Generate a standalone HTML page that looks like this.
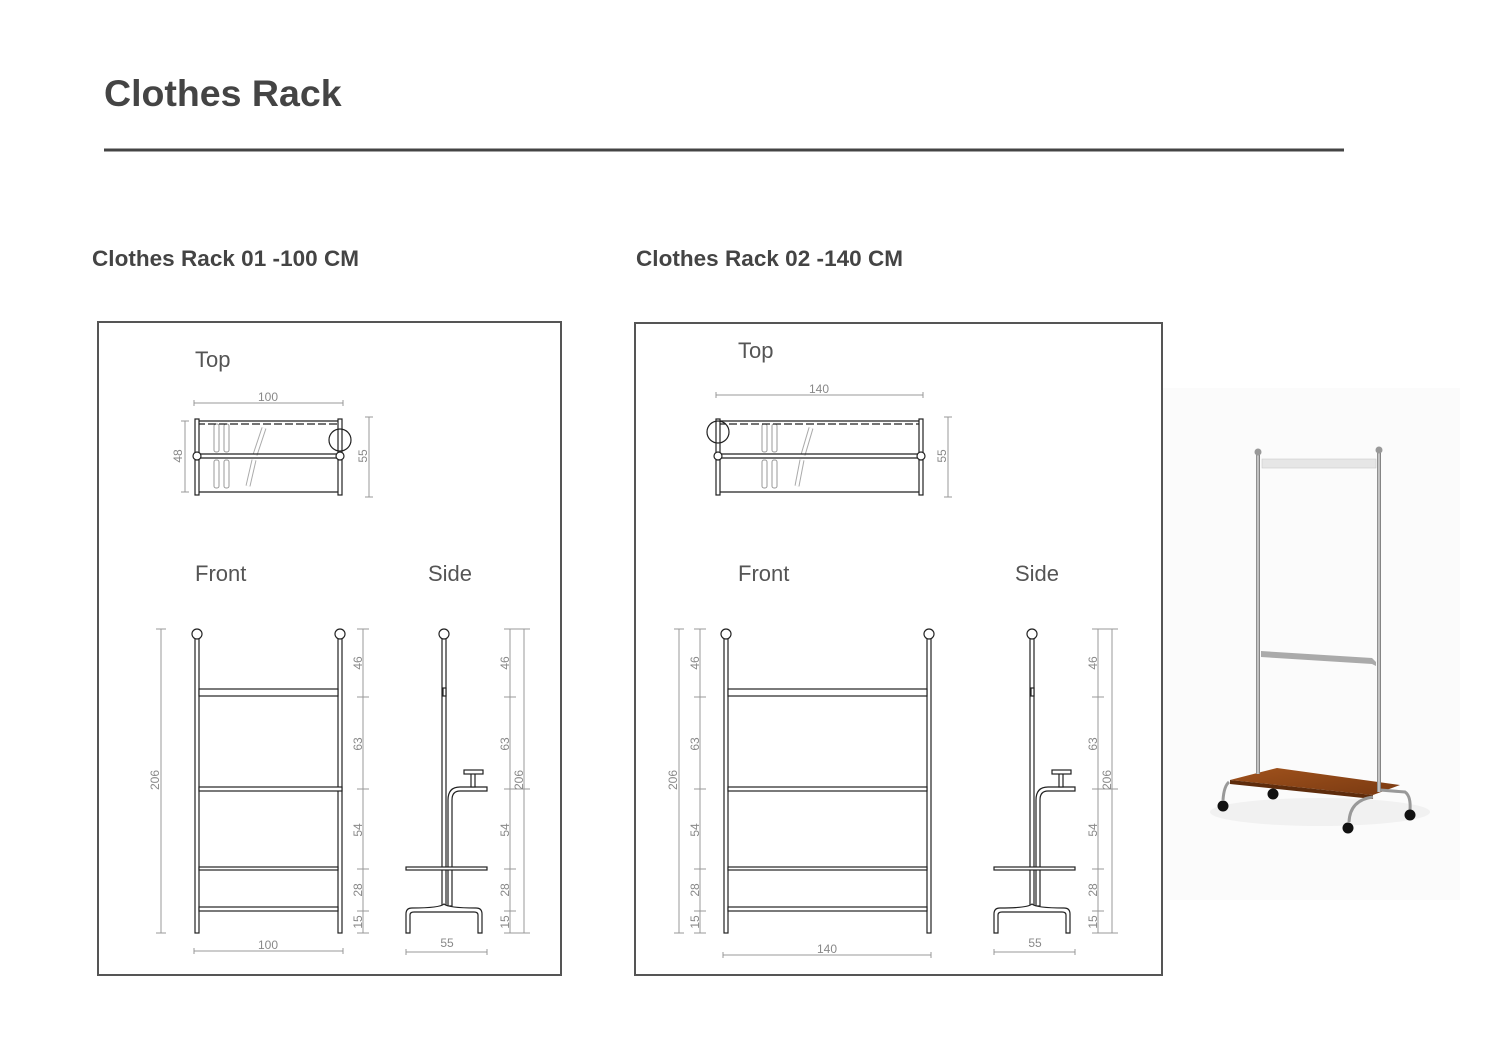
<!DOCTYPE html>
<html><head><meta charset="utf-8"><style>
html,body{margin:0;padding:0;background:#fff;}
svg{display:block;}
.t{font-family:"Liberation Sans",sans-serif;}
.d{font-family:"Liberation Sans",sans-serif;font-size:12px;fill:#888;}
.lab{font-family:"Liberation Sans",sans-serif;font-size:22px;fill:#555;}
</style></head><body>
<svg width="1500" height="1061" viewBox="0 0 1500 1061" xmlns="http://www.w3.org/2000/svg">
<defs>
<linearGradient id="chrome" x1="0" x2="1"><stop offset="0" stop-color="#777"/><stop offset=".5" stop-color="#ddd"/><stop offset="1" stop-color="#666"/></linearGradient>
<linearGradient id="wood" x1="0" x2="1" y1="0" y2="1"><stop offset="0" stop-color="#a0521c"/><stop offset="1" stop-color="#7a3a12"/></linearGradient>
</defs>
<text x="104" y="106" class="t" font-size="37.5" font-weight="bold" fill="#444">Clothes Rack</text>
<line x1="104" y1="150" x2="1344" y2="150" stroke="#444" stroke-width="3"/>
<text x="92" y="266" class="t" font-size="22.5" font-weight="bold" fill="#444" textLength="267">Clothes Rack 01 -100 CM</text>
<text x="636" y="266" class="t" font-size="22.5" font-weight="bold" fill="#444" textLength="267">Clothes Rack 02 -140 CM</text>

<rect x="98" y="322" width="463" height="653" fill="none" stroke="#555" stroke-width="2"/>
<rect x="635" y="323" width="527" height="652" fill="none" stroke="#555" stroke-width="2"/>

<!-- ===== Panel 1 Top ===== -->
<text x="195" y="367" class="lab">Top</text>
<g stroke="#999" stroke-width="1" fill="none">
<line x1="194" y1="403" x2="343" y2="403"/><line x1="194" y1="400" x2="194" y2="406"/><line x1="343" y1="400" x2="343" y2="406"/>
<line x1="185" y1="421" x2="185" y2="492"/><line x1="181" y1="421" x2="189" y2="421"/><line x1="181" y1="492" x2="189" y2="492"/>
<line x1="369" y1="417" x2="369" y2="497"/><line x1="365" y1="417" x2="373" y2="417"/><line x1="365" y1="497" x2="373" y2="497"/>
<rect x="214" y="424" width="5" height="28" rx="2"/><rect x="224" y="424" width="5" height="28" rx="2"/>
<rect x="214" y="460" width="5" height="28" rx="2"/><rect x="224" y="460" width="5" height="28" rx="2"/>
<line x1="264" y1="428" x2="255" y2="455" stroke-width="5" stroke="#aaa"/><line x1="264" y1="428" x2="255" y2="455" stroke-width="3" stroke="#fff"/>
<line x1="254" y1="460" x2="248" y2="486" stroke-width="5" stroke="#aaa"/><line x1="254" y1="460" x2="248" y2="486" stroke-width="3" stroke="#fff"/>
</g>
<text x="268" y="401" class="d" text-anchor="middle">100</text>
<text transform="translate(182,456) rotate(-90)" class="d" text-anchor="middle">48</text>
<text transform="translate(367,456) rotate(-90)" class="d" text-anchor="middle">55</text>
<g stroke="#222" stroke-width="1.2" fill="#fff">
<line x1="197" y1="421" x2="340" y2="421"/><line x1="197" y1="424" x2="340" y2="424" stroke-dasharray="8 3"/>
<line x1="197" y1="454" x2="340" y2="454"/><line x1="197" y1="458" x2="340" y2="458"/>
<line x1="197" y1="492" x2="340" y2="492"/>
<rect x="195" y="419" width="4" height="76"/><rect x="338" y="419" width="4" height="76"/>
<circle cx="197" cy="456" r="4"/><circle cx="340" cy="456" r="4"/>
<circle cx="340" cy="440" r="11" fill="none"/>
</g>

<!-- ===== Panel 1 Front ===== -->
<text x="195" y="581" class="lab">Front</text>
<g stroke="#222" stroke-width="1.2" fill="#fff">
<rect x="195" y="636" width="4" height="297"/><rect x="338" y="636" width="4" height="297"/>
<circle cx="197" cy="634" r="5"/><circle cx="340" cy="634" r="5"/>
<rect x="199" y="689" width="139" height="7"/><rect x="199" y="787" width="143" height="4"/>
<rect x="199" y="867" width="139" height="3"/><rect x="199" y="907" width="139" height="4"/>
</g>
<g stroke="#999" stroke-width="1">
<line x1="161" y1="629" x2="161" y2="933"/><line x1="156" y1="629" x2="166" y2="629"/><line x1="156" y1="933" x2="166" y2="933"/>
<line x1="363" y1="629" x2="363" y2="933"/>
<line x1="357" y1="629" x2="369" y2="629"/><line x1="357" y1="697" x2="369" y2="697"/><line x1="357" y1="789" x2="369" y2="789"/><line x1="357" y1="869" x2="369" y2="869"/><line x1="357" y1="911" x2="369" y2="911"/><line x1="357" y1="933" x2="369" y2="933"/>
<line x1="194" y1="951" x2="343" y2="951"/><line x1="194" y1="948" x2="194" y2="954"/><line x1="343" y1="948" x2="343" y2="954"/>
</g>
<text transform="translate(159,780) rotate(-90)" class="d" text-anchor="middle">206</text>
<text transform="translate(362,663) rotate(-90)" class="d" text-anchor="middle">46</text>
<text transform="translate(362,744) rotate(-90)" class="d" text-anchor="middle">63</text>
<text transform="translate(362,830) rotate(-90)" class="d" text-anchor="middle">54</text>
<text transform="translate(362,890) rotate(-90)" class="d" text-anchor="middle">28</text>
<text transform="translate(362,922) rotate(-90)" class="d" text-anchor="middle">15</text>
<text x="268" y="949" class="d" text-anchor="middle">100</text>

<!-- ===== Panel 1 Side ===== -->
<text x="428" y="581" class="lab">Side</text>
<g id="side1">
<g stroke="#222" stroke-width="1.2" fill="#fff">
<rect x="442" y="636" width="4" height="270"/>
<circle cx="444" cy="634" r="5"/>
<rect x="443" y="688" width="3" height="8"/>
<path d="M448 906 L448 800 Q448 787 460 787 L487 787 L487 791 L460 791 Q452 791 452 800 L452 906 Z"/>
<rect x="471" y="773" width="4" height="14"/><rect x="464" y="770" width="19" height="4"/>
<rect x="406" y="867" width="81" height="3"/>
<path d="M444 904 Q440 908 412 908 Q406 908 406 914 L406 933 L410 933 L410 915 Q410 912 414 912 L444 912 L474 912 Q478 912 478 915 L478 933 L482 933 L482 914 Q482 908 476 908 Q448 908 444 904 Z"/>
</g>
<g stroke="#999" stroke-width="1">
<line x1="510" y1="629" x2="510" y2="933"/><line x1="524" y1="629" x2="524" y2="933"/>
<line x1="504" y1="629" x2="530" y2="629"/><line x1="504" y1="697" x2="516" y2="697"/><line x1="504" y1="789" x2="530" y2="789"/><line x1="504" y1="869" x2="516" y2="869"/><line x1="504" y1="911" x2="516" y2="911"/><line x1="504" y1="933" x2="530" y2="933"/>
<line x1="406" y1="952" x2="487" y2="952"/><line x1="406" y1="949" x2="406" y2="955"/><line x1="487" y1="949" x2="487" y2="955"/>
</g>
<text transform="translate(509,663) rotate(-90)" class="d" text-anchor="middle">46</text>
<text transform="translate(509,744) rotate(-90)" class="d" text-anchor="middle">63</text>
<text transform="translate(509,830) rotate(-90)" class="d" text-anchor="middle">54</text>
<text transform="translate(509,890) rotate(-90)" class="d" text-anchor="middle">28</text>
<text transform="translate(509,922) rotate(-90)" class="d" text-anchor="middle">15</text>
<text transform="translate(523,780) rotate(-90)" class="d" text-anchor="middle">206</text>
<text x="447" y="947" class="d" text-anchor="middle">55</text>
</g>

<!-- ===== Panel 2 Top ===== -->
<text x="738" y="358" class="lab">Top</text>
<g stroke="#999" stroke-width="1" fill="none">
<line x1="716" y1="395" x2="923" y2="395"/><line x1="716" y1="392" x2="716" y2="398"/><line x1="923" y1="392" x2="923" y2="398"/>
<line x1="948" y1="417" x2="948" y2="497"/><line x1="944" y1="417" x2="952" y2="417"/><line x1="944" y1="497" x2="952" y2="497"/>
<rect x="762" y="424" width="5" height="28" rx="2"/><rect x="772" y="424" width="5" height="28" rx="2"/>
<rect x="762" y="460" width="5" height="28" rx="2"/><rect x="772" y="460" width="5" height="28" rx="2"/>
<line x1="811" y1="428" x2="803" y2="455" stroke-width="5" stroke="#aaa"/><line x1="811" y1="428" x2="803" y2="455" stroke-width="3" stroke="#fff"/>
<line x1="802" y1="460" x2="797" y2="486" stroke-width="5" stroke="#aaa"/><line x1="802" y1="460" x2="797" y2="486" stroke-width="3" stroke="#fff"/>
</g>
<text x="819" y="393" class="d" text-anchor="middle">140</text>
<text transform="translate(946,456) rotate(-90)" class="d" text-anchor="middle">55</text>
<g stroke="#222" stroke-width="1.2" fill="#fff">
<line x1="718" y1="421" x2="921" y2="421"/><line x1="718" y1="424" x2="921" y2="424" stroke-dasharray="8 3"/>
<line x1="718" y1="454" x2="921" y2="454"/><line x1="718" y1="458" x2="921" y2="458"/>
<line x1="718" y1="492" x2="921" y2="492"/>
<rect x="716" y="419" width="4" height="76"/><rect x="919" y="419" width="4" height="76"/>
<circle cx="718" cy="456" r="4"/><circle cx="921" cy="456" r="4"/>
<circle cx="718" cy="432" r="11" fill="none"/>
</g>

<!-- ===== Panel 2 Front ===== -->
<text x="738" y="581" class="lab">Front</text>
<g stroke="#222" stroke-width="1.2" fill="#fff">
<rect x="724" y="636" width="4" height="297"/><rect x="927" y="636" width="4" height="297"/>
<circle cx="726" cy="634" r="5"/><circle cx="929" cy="634" r="5"/>
<rect x="728" y="689" width="199" height="7"/><rect x="728" y="787" width="199" height="4"/>
<rect x="728" y="867" width="199" height="3"/><rect x="728" y="907" width="199" height="4"/>
</g>
<g stroke="#999" stroke-width="1">
<line x1="679" y1="629" x2="679" y2="933"/><line x1="674" y1="629" x2="684" y2="629"/><line x1="674" y1="933" x2="684" y2="933"/>
<line x1="700" y1="629" x2="700" y2="933"/>
<line x1="694" y1="629" x2="706" y2="629"/><line x1="694" y1="697" x2="706" y2="697"/><line x1="694" y1="789" x2="706" y2="789"/><line x1="694" y1="869" x2="706" y2="869"/><line x1="694" y1="911" x2="706" y2="911"/><line x1="694" y1="933" x2="706" y2="933"/>
<line x1="723" y1="955" x2="931" y2="955"/><line x1="723" y1="952" x2="723" y2="958"/><line x1="931" y1="952" x2="931" y2="958"/>
</g>
<text transform="translate(677,780) rotate(-90)" class="d" text-anchor="middle">206</text>
<text transform="translate(699,663) rotate(-90)" class="d" text-anchor="middle">46</text>
<text transform="translate(699,744) rotate(-90)" class="d" text-anchor="middle">63</text>
<text transform="translate(699,830) rotate(-90)" class="d" text-anchor="middle">54</text>
<text transform="translate(699,890) rotate(-90)" class="d" text-anchor="middle">28</text>
<text transform="translate(699,922) rotate(-90)" class="d" text-anchor="middle">15</text>
<text x="827" y="953" class="d" text-anchor="middle">140</text>

<!-- ===== Panel 2 Side ===== -->
<text x="1015" y="581" class="lab">Side</text>
<use href="#side1" transform="translate(588,0)"/>

<!-- ===== Photo ===== -->
<rect x="1163" y="388" width="297" height="512" fill="#fbfbfb"/>
<ellipse cx="1320" cy="812" rx="110" ry="14" fill="#f1f1f1"/>
<rect x="1262" y="459" width="114" height="9" fill="#e6e6e6" stroke="#ccc" stroke-width="0.6"/>
<path d="M1261 651 L1372 658 L1376 662 L1376 666 L1372 664 L1261 657 Z" fill="#aaa"/>
<path d="M1230 780 L1277 768 L1400 785 L1373 795 Z" fill="url(#wood)"/>
<path d="M1230 780 L1373 795 L1373 799 L1230 784 Z" fill="#5e2c0c"/>
<rect x="1256" y="452" width="4" height="322" fill="url(#chrome)"/>
<rect x="1377" y="452" width="4" height="340" fill="url(#chrome)"/>
<circle cx="1258" cy="452" r="3.5" fill="#999"/><circle cx="1379" cy="450" r="3.5" fill="#999"/>
<path d="M1229 782 Q1224 786 1223 800" stroke="#999" stroke-width="3" fill="none"/>
<path d="M1373 797 Q1350 800 1349 822" stroke="#999" stroke-width="3" fill="none"/>
<path d="M1380 790 L1405 792 Q1411 796 1410 810" stroke="#999" stroke-width="3" fill="none"/>
<circle cx="1223" cy="806" r="5.5" fill="#111"/><circle cx="1273" cy="794" r="5.5" fill="#111"/>
<circle cx="1348" cy="828" r="5.5" fill="#111"/><circle cx="1410" cy="815" r="5.5" fill="#111"/>
</svg>
</body></html>
